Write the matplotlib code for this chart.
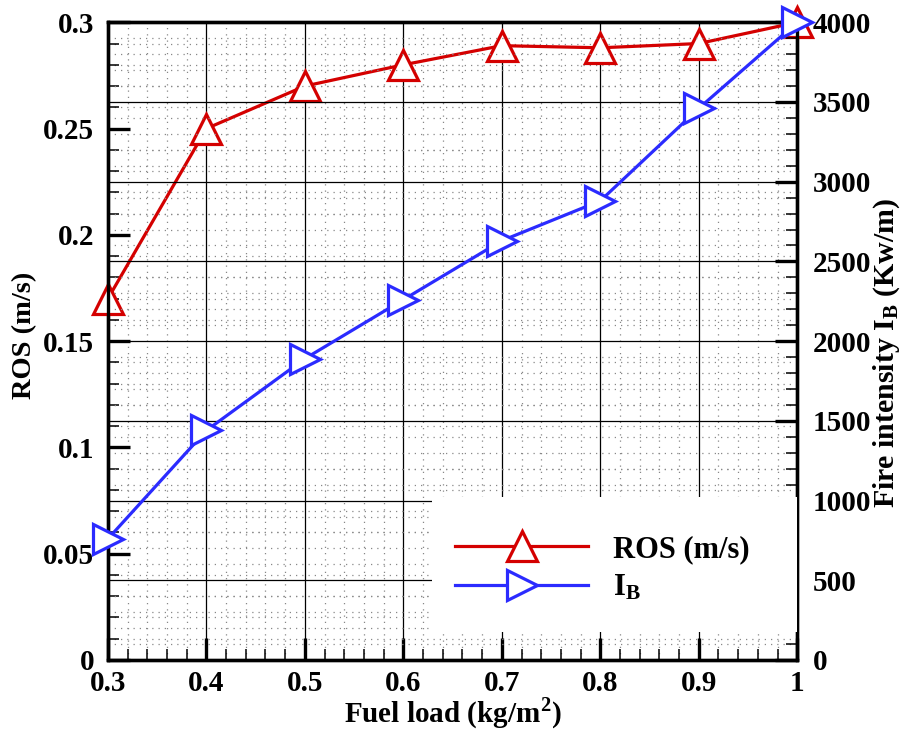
import matplotlib.pyplot as plt
import numpy as np
from matplotlib.ticker import MultipleLocator, FuncFormatter
from matplotlib.patches import Rectangle

# data
fuel = [0.3, 0.4, 0.5, 0.6, 0.7, 0.8, 0.9, 1.0]
ros = [0.17, 0.25, 0.27, 0.28, 0.289, 0.288, 0.29, 0.30]
ib = [760, 1440, 1890, 2260, 2630, 2880, 3460, 4000]

plt.rcParams['font.family'] = 'Liberation Serif'
plt.rcParams['font.weight'] = 'bold'
plt.rcParams['mathtext.fontset'] = 'custom'
plt.rcParams['mathtext.bf'] = 'Liberation Serif:bold'
plt.rcParams['mathtext.rm'] = 'Liberation Serif:bold'

red = '#d40000'
blue = '#2b2bff'
lw = 2.3
fs_tick = 21

fig = plt.figure(figsize=(9.07, 7.33), dpi=100)
ax = fig.add_axes([0.119, 0.0996, 0.760, 0.870])
ax2 = ax.twinx()

l1, = ax.plot(fuel, ros, '-^', color=red, linewidth=lw, markersize=21,
              markerfacecolor='white', markeredgewidth=lw, clip_on=False,
              label='ROS (m/s)', zorder=5)
l2, = ax2.plot(fuel, ib, '->', color=blue, linewidth=lw, markersize=21,
               markerfacecolor='white', markeredgewidth=lw, clip_on=False,
               label=r'$\mathbf{I_B}$', zorder=5)

ax.set_xlim(0.3, 1.0)
ax.set_ylim(0, 0.3)
ax2.set_ylim(0, 4000)

ax.xaxis.set_major_locator(MultipleLocator(0.1))
ax.xaxis.set_minor_locator(MultipleLocator(0.02))
ax.yaxis.set_major_locator(MultipleLocator(0.05))
ax.yaxis.set_minor_locator(MultipleLocator(0.01))
ax2.yaxis.set_major_locator(MultipleLocator(500))
ax2.yaxis.set_minor_locator(MultipleLocator(100))
fmt = FuncFormatter(lambda v, p: '%g' % round(v, 4))
ax.xaxis.set_major_formatter(fmt)
ax.yaxis.set_major_formatter(fmt)

# grids: vertical from x, horizontal solid from the right axis
dots = (0, (1, 4))
ax.grid(True, which='major', axis='x', color='black', linewidth=0.9)
ax.grid(True, which='minor', axis='x', color='#888888', linewidth=0.9, linestyle=dots)
ax.grid(True, which='minor', axis='y', color='#888888', linewidth=0.9, linestyle=dots)
ax2.grid(True, which='major', axis='y', color='black', linewidth=0.9)
ax2.grid(True, which='minor', axis='y', color='#888888', linewidth=0.9, linestyle=dots)

ax.tick_params(axis='both', which='major', direction='in', length=16, width=2.4,
               labelsize=fs_tick, top=False, right=False)
ax.tick_params(axis='x', which='major', pad=7)
ax.tick_params(axis='y', which='major', pad=10)
ax.tick_params(axis='both', which='minor', direction='in', length=8, width=1.1,
               top=False, right=False)
ax2.tick_params(axis='y', which='major', direction='in', length=16, width=2.4,
                labelsize=fs_tick, pad=11, left=False)
ax2.tick_params(axis='y', which='minor', direction='in', length=8, width=1.1, left=False)

for a in (ax, ax2):
    for s in a.spines.values():
        s.set_linewidth(2.4)

ax.set_xlabel(r'Fuel load (kg/m$^\mathbf{2}$)', fontsize=21, fontweight='bold', labelpad=-1)
ax.set_ylabel('ROS (m/s)', fontsize=20.5, fontweight='bold')
ax.yaxis.set_label_coords(-0.103, 0.509)
ax2.set_ylabel(r'Fire intensity $\mathbf{I_B}$ (Kw/m)', fontsize=21.5, fontweight='bold')
ax2.yaxis.set_label_coords(1.108, 0.481)

# white area behind the legend
ax2.add_patch(Rectangle((0.47, 0.044), 0.53, 0.2115, transform=ax2.transAxes,
                        facecolor='white', edgecolor='none', zorder=4))
leg = ax2.legend(handles=[l1, l2], loc='center left', bbox_to_anchor=(0.504, 0.143),
                 fontsize=22, frameon=False, handlelength=4.35,
                 handletextpad=0.8, labelspacing=0.3, borderpad=0.0,
                 borderaxespad=0.0)
leg.set_zorder(10)

fig.savefig('out.png', dpi=100)
